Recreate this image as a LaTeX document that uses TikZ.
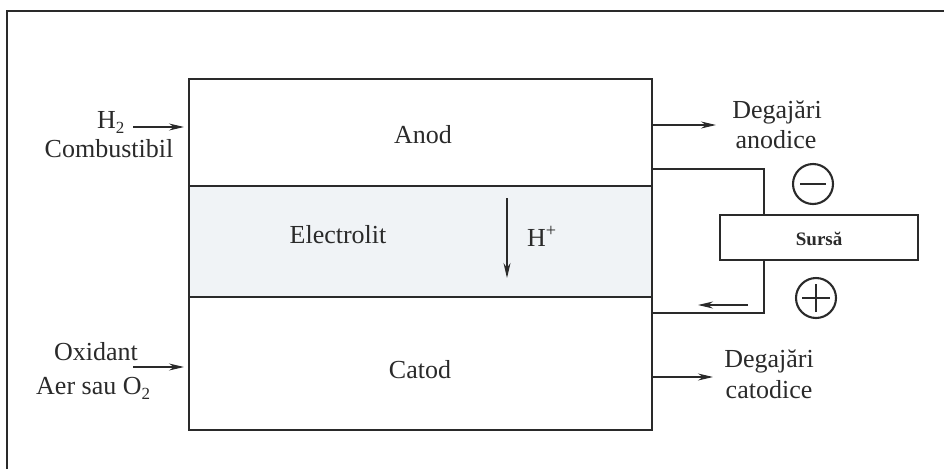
\documentclass[tikz,border=0pt]{standalone}
\usepackage{fontspec}
\setmainfont{Liberation Serif}
\usetikzlibrary{arrows.meta}
\definecolor{ink}{HTML}{2A2A2A}
\definecolor{elecfill}{HTML}{F0F3F6}
\newcommand{\lowsub}[1]{\raisebox{-0.22em}{\fontsize{17}{17}\selectfont #1}}
\begin{document}
\begin{tikzpicture}[x=1pt,y=-1pt,
  txt/.style={font=\fontsize{26}{31}\selectfont, text=ink, inner sep=0pt, anchor=base},
  cell/.style={draw=ink, line width=1.6pt, minimum width=463pt, inner sep=0pt, outer sep=0pt, anchor=north west},
  arr/.style={draw=ink, line width=1.2pt, -{Stealth[length=15pt,width=7pt]}},
  wire/.style={draw=ink, line width=1.3pt},
  pole/.style={circle, draw=ink, line width=2.1pt, minimum size=40pt, inner sep=0pt}]
\useasboundingbox (0,0) rectangle (944,469);
% outer frame (left and top edges only)
\draw[ink, line width=1.5pt] (7,469) -- (7,11) -- (944,11);
% cell
\node[cell, minimum height=107pt] (anod) at (189,79) {};
\node[cell, minimum height=111pt, fill=elecfill] (elec) at (189,186) {};
\node[cell, minimum height=133pt] (catod) at (189,297) {};
\draw[ink, line width=2.6pt] (anod.north west) rectangle (catod.south east);
% labels in cell
\node[txt] (tanod) at (423,143) {Anod};
\node[txt] (telec) at (338,243) {Electrolit};
\node[txt] (tcatod) at (420,378) {Catod};
\coordinate (hpa) at (507,198);
\coordinate (hpb) at (507,278);
\draw[arr] (hpa) -- (hpb);
\node[txt, anchor=base west] (thp) at (527,246) {H\textsuperscript{+}};
% left inputs
\node[txt, anchor=base west] (th2) at (97,128) {H\lowsub{2}};
\node[txt] (tcomb) at (109,157) {Combustibil};
\coordinate (h2a) at (133,127);
\coordinate (h2b) at (184,127);
\draw[arr] (h2a) -- (h2b);
\node[txt] (toxid) at (96,360) {Oxidant};
\node[txt, anchor=base west] (taer) at (36,394) {Aer sau O\lowsub{2}};
\coordinate (oxa) at (133,367);
\coordinate (oxb) at (184,367);
\draw[arr] (oxa) -- (oxb);
% right outputs
\coordinate (ana) at (anod.east |- 0,125);
\coordinate (anb) at (716,125);
\draw[arr] (ana) -- (anb);
\node[txt] (tdeg1) at (777,118) {Degajări};
\node[txt] (tanodice) at (776,148) {anodice};
\coordinate (caa) at (catod.east |- 0,377);
\coordinate (cab) at (713,377);
\draw[arr] (caa) -- (cab);
\node[txt] (tdeg2) at (769,367) {Degajări};
\node[txt] (tcatodice) at (769,398) {catodice};
% source circuit
\node[draw=ink, line width=2.2pt, minimum width=198pt, minimum height=45pt, inner sep=0pt, anchor=north west] (src) at (719,214) {};
\node[font=\bfseries\fontsize{19}{22}\selectfont, text=ink, inner sep=0pt, anchor=base] (tsrc) at (src.center |- 0,245) {Sursă};
\coordinate (wt) at (764,169);
\coordinate (wb) at (764,313);
\draw[wire] (anod.east |- wt) -- (wt) -- (src.north -| wt);
\draw[wire] (src.south -| wb) -- (wb) -- (catod.east |- wb);
\coordinate (ela) at (748,305);
\coordinate (elb) at (698,305);
\draw[arr] (ela) -- (elb);
\node[pole] (minus) at (813,184) {};
\draw[ink, line width=2.1pt] ([xshift=-13pt]minus.center) -- ([xshift=13pt]minus.center);
\node[pole] (plus) at (816,298) {};
\draw[ink, line width=2.1pt] ([xshift=-14pt]plus.center) -- ([xshift=14pt]plus.center);
\draw[ink, line width=2.1pt] ([yshift=-14pt]plus.center) -- ([yshift=14pt]plus.center);
\end{tikzpicture}
\end{document}
